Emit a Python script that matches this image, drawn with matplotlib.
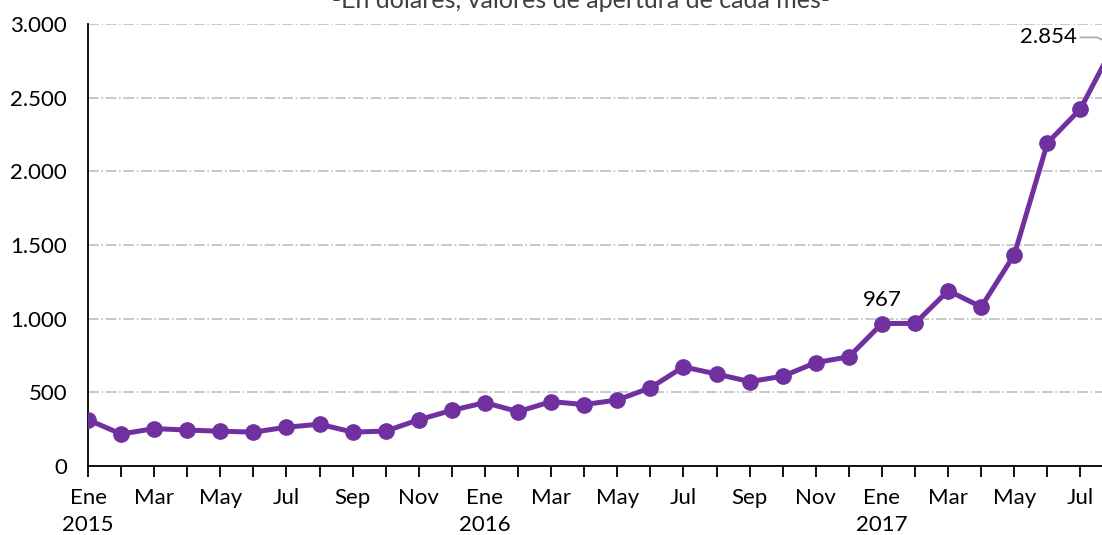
import matplotlib.pyplot as plt
import numpy as np

plt.rcParams['font.family'] = ['Lato', 'DejaVu Sans']

meses = ['Ene', 'Feb', 'Mar', 'Abr', 'May', 'Jun', 'Jul', 'Ago', 'Sep', 'Oct', 'Nov', 'Dic']
anios = ['2015', '2016', '2017']
precio = [314, 217, 254, 244, 236, 230, 263, 284, 230, 237, 314, 378,
          430, 369, 437, 417, 448, 531, 673, 624, 573, 609, 702, 741,
          967, 968, 1190, 1080, 1435, 2192, 2424, 2854]

x = np.arange(len(precio))

fig = plt.figure(figsize=(11.02, 5.35), dpi=100)
ax = fig.add_axes([88 / 1102, 1 - 466 / 535, 1 - 88 / 1102, (466 - 24) / 535])

ax.plot(x, precio, color='#7030A0', lw=3.6, marker='o', ms=11, zorder=3)

ax.set_yticks(np.arange(0, 3001, 500))
ax.set_yticklabels([f'{v:,}'.replace(',', '.') for v in range(0, 3001, 500)])
ax.yaxis.grid(True, color='#BFBFBF', ls='-.', lw=1.2)
ax.set_axisbelow(True)

etiquetas = []
for i in range(len(precio)):
    m = i % 12
    if m == 0:
        etiquetas.append(f'{meses[m]}\n{anios[i // 12]}')
    elif m % 2 == 0:
        etiquetas.append(meses[m])
    else:
        etiquetas.append('')
ax.set_xticks(x)
ax.set_xticklabels(etiquetas, linespacing=1.45, va='top')

for s in ['top', 'right']:
    ax.spines[s].set_visible(False)
ax.spines['left'].set_linewidth(1.3)
ax.spines['bottom'].set_linewidth(1.3)
ax.tick_params(axis='x', length=8, width=1.3, labelsize=16, pad=8)
ax.tick_params(axis='y', length=0, labelsize=16, pad=15)

ax.annotate('967', (24, precio[24]), xytext=(0, 10), textcoords='offset points',
            ha='center', va='bottom', fontsize=16)
ax.text(29.9, 2854 + 55, '2.854', ha='right', va='center', fontsize=16)
ax.plot([30.0, 30.5, 30.9], [2909, 2909, 2870], color='#A6A6A6', lw=1.2)

ax.set_xlim(0, 30.65)
ax.set_ylim(0, 3000)

fig.text(0.527, 0.985, '-En dólares, valores de apertura de cada mes-',
         ha='center', va='baseline', fontsize=18, color='#404040')

fig.savefig('out.png', dpi=100)
